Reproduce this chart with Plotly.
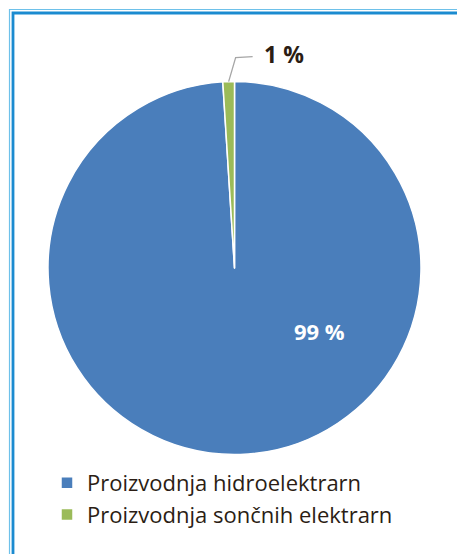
import math
import plotly.graph_objects as go

categories = ["Proizvodnja hidroelektrarn", "Proizvodnja sončnih elektrarn"]
values = [99, 1]
colors = ["#4A7EBB", "#9BBB59"]
label_texts = [f"{v} %" for v in values]

W, H = 457, 554
cx, cy, r = 234.5, 268.0, 186.5

def px(x):
    return x / W

def py(y):
    return 1 - y / H

fig = go.Figure(go.Pie(
    labels=categories,
    values=values,
    sort=False,
    direction="clockwise",
    rotation=0,
    marker=dict(colors=colors, line=dict(color="white", width=1.5)),
    textinfo="none",
    hoverinfo="label+percent",
    domain=dict(x=[px(cx - r), px(cx + r)], y=[py(cy + r), py(cy - r)]),
))

# leader line for small slice, computed from data angle
total = sum(values)
mid_frac = (values[0] + values[1] / 2) / total
ang = 2 * math.pi * mid_frac
ex = cx + r * math.sin(ang)
ey = cy - r * math.cos(ang)

shapes = [
    dict(type="path", xref="paper", yref="paper",
         path=f"M {px(ex)} {py(ey)} L {px(ex + 7)} {py(ey - 24)} L {px(ex + 24)} {py(ey - 25)}",
         line=dict(color="#A6A6A6", width=1.3)),
    # double frame
    dict(type="rect", xref="paper", yref="paper",
         x0=px(9.5), y0=py(600), x1=px(520), y1=py(9.5),
         line=dict(color="#6EC1EA", width=1.2), fillcolor="rgba(0,0,0,0)"),
    dict(type="rect", xref="paper", yref="paper",
         x0=px(13), y0=py(600), x1=px(520), y1=py(13),
         line=dict(color="#1B8BD0", width=2.8), fillcolor="rgba(0,0,0,0)"),
]

annotations = [
    dict(x=px(283.5), y=py(54), xref="paper", yref="paper",
         xanchor="center", yanchor="middle",
         text=f"<b>{label_texts[1]}</b>", showarrow=False,
         font=dict(family="Open Sans", size=23, color="#2B1D14")),
    dict(x=px(319.5), y=py(331), xref="paper", yref="paper",
         xanchor="center", yanchor="middle",
         text=f"<b>{label_texts[0]}</b>", showarrow=False,
         font=dict(family="Open Sans", size=22, color="white")),
]

fig.update_layout(
    width=W, height=H,
    margin=dict(l=0, r=0, t=0, b=0),
    paper_bgcolor="white",
    plot_bgcolor="white",
    showlegend=True,
    legend=dict(x=px(47), y=py(462), xanchor="left", yanchor="top",
                font=dict(family="Open Sans", size=22, color="#2B1D14"),
                bgcolor="rgba(0,0,0,0)", itemwidth=30, tracegroupgap=0),
    shapes=shapes,
    annotations=annotations,
)

fig.write_html("out.html",
               config={"displayModeBar": False},
               post_script="document.body.style.margin='0';document.body.style.overflow='hidden';")
